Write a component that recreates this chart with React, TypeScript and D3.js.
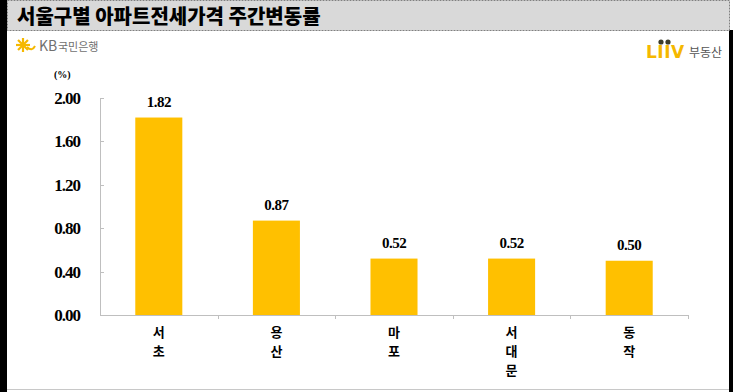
import React, { useRef, useEffect } from "react";
import * as d3 from "d3";

const districts = ["서초", "용산", "마포", "서대문", "동작"];
const changes = [1.82, 0.87, 0.52, 0.52, 0.5];
const yTicks = [0, 0.4, 0.8, 1.2, 1.6, 2.0];
const title = "서울구별 아파트전세가격 주간변동률";

const App = () => {
  const svgRef = useRef<SVGSVGElement>(null);

  useEffect(() => {
    const w = 733;
    const h = 392;
    const margin = { top: 98, bottom: 77, left: 100, right: 45 };
    const svg = d3.select(svgRef.current);
    svg.selectAll("*").remove();

    // frame
    svg.append("rect").attr("x", 0).attr("y", 0).attr("width", w).attr("height", h).attr("fill", "#fff");
    svg.append("rect").attr("x", 0).attr("y", 0).attr("width", 7).attr("height", h).attr("fill", "#000");
    svg.append("rect").attr("x", 729).attr("y", 30).attr("width", 4).attr("height", h - 30).attr("fill", "#000");
    svg.append("rect")
      .attr("x", 7.5).attr("y", 0.5).attr("width", 722).attr("height", 30)
      .attr("fill", "#d9d9d9").attr("stroke", "#808080").attr("stroke-dasharray", "2,1");
    svg.append("text")
      .attr("x", 17).attr("y", 24)
      .attr("font-family", "'Noto Sans CJK KR'").attr("font-weight", 900)
      .attr("font-size", 20).attr("fill", "#000")
      .text(title);
    svg.append("line").attr("x1", 7).attr("x2", 729).attr("y1", 389.5).attr("y2", 389.5)
      .attr("stroke", "#c8c8c8");

    // KB logo
    const kb = svg.append("g").attr("transform", "translate(23,45)");
    d3.range(8).forEach((i) => {
      const a = (i * Math.PI) / 4;
      kb.append("line")
        .attr("x1", 0).attr("y1", 0)
        .attr("x2", Math.cos(a) * 7).attr("y2", Math.sin(a) * 7)
        .attr("stroke", "#f5b800").attr("stroke-width", 2.2);
    });
    kb.append("path").attr("d", "M4,2 Q9,7 12,1").attr("fill", "none").attr("stroke", "#f5b800").attr("stroke-width", 2);
    svg.append("text").attr("x", 39).attr("y", 51)
      .attr("font-family", "'Noto Sans CJK KR'").attr("font-size", 14).attr("fill", "#707070")
      .text("KB");
    svg.append("text").attr("x", 58).attr("y", 51)
      .attr("font-family", "'Noto Sans CJK KR'").attr("font-size", 11).attr("fill", "#707070")
      .text("국민은행");

    // Liiv logo
    svg.append("text").attr("x", 646).attr("y", 58)
      .attr("font-family", "'DejaVu Sans'").attr("font-weight", 900).attr("font-size", 17)
      .attr("fill", "#f5b800").attr("letter-spacing", 0.5)
      .text("LIIV");
    svg.append("circle").attr("cx", 661).attr("cy", 42).attr("r", 2.6).attr("fill", "#3c3c2c");
    svg.append("circle").attr("cx", 668).attr("cy", 42).attr("r", 2.6).attr("fill", "#3c3c2c");
    svg.append("text").attr("x", 689).attr("y", 57)
      .attr("font-family", "'Noto Sans CJK KR'").attr("font-size", 12).attr("fill", "#555")
      .text("부동산");

    const x = d3.scaleBand().domain(districts).range([margin.left, w - margin.right]).paddingInner(0.6).paddingOuter(0.3);
    const y = d3.scaleLinear().domain([0, 2]).range([h - margin.bottom, margin.top]);

    // axes
    svg.append("line").attr("x1", margin.left + 0.5).attr("x2", margin.left + 0.5)
      .attr("y1", y(2)).attr("y2", y(0)).attr("stroke", "#bfbfbf");
    svg.append("line").attr("x1", margin.left).attr("x2", w - margin.right)
      .attr("y1", y(0) + 0.5).attr("y2", y(0) + 0.5).attr("stroke", "#bfbfbf");

    svg.append("g").selectAll("line").data(yTicks).join("line")
      .attr("x1", margin.left).attr("x2", margin.left + 4)
      .attr("y1", (d) => Math.round(y(d)) + 0.5).attr("y2", (d) => Math.round(y(d)) + 0.5)
      .attr("stroke", "#bfbfbf");
    svg.append("g").selectAll("text").data(yTicks).join("text")
      .attr("x", 80).attr("y", (d) => y(d) + 6)
      .attr("text-anchor", "end")
      .attr("font-family", "'Liberation Serif'").attr("font-weight", "bold").attr("font-size", 17)
      .attr("letter-spacing", -1)
      .text((d) => d.toFixed(2));
    svg.append("text").attr("x", 54).attr("y", 78)
      .attr("font-family", "'Liberation Serif'").attr("font-weight", "bold").attr("font-size", 10)
      .text("(%)");

    const step = x.step();
    const bounds = d3.range(districts.length + 1).map((i) => margin.left + i * step);
    svg.append("g").selectAll("line").data(bounds.slice(1)).join("line")
      .attr("x1", (d) => Math.round(d) + 0.5).attr("x2", (d) => Math.round(d) + 0.5)
      .attr("y1", y(0)).attr("y2", y(0) + 4).attr("stroke", "#bfbfbf");

    // bars
    svg.append("g").attr("fill", "#ffc000").selectAll("rect").data(changes).join("rect")
      .attr("x", (d, i) => x(districts[i])!)
      .attr("y", (d) => y(d))
      .attr("width", x.bandwidth())
      .attr("height", (d) => y(0) - y(d));

    svg.append("g").selectAll("text").data(changes).join("text")
      .attr("x", (d, i) => x(districts[i])! + x.bandwidth() / 2)
      .attr("y", (d) => y(d) - 11)
      .attr("text-anchor", "middle")
      .attr("font-family", "'Liberation Serif'").attr("font-weight", "bold").attr("font-size", 15)
      .attr("letter-spacing", -0.5)
      .text((d) => d.toFixed(2));

    // category labels, one character per line
    const chars = districts.flatMap((d) => Array.from(d).map((c, j) => ({ d, c, j })));
    svg.append("g").selectAll("text").data(chars).join("text")
      .attr("x", (e) => x(e.d)! + x.bandwidth() / 2)
      .attr("y", (e) => 337 + e.j * 19)
      .attr("text-anchor", "middle")
      .attr("font-family", "'Noto Sans CJK KR'").attr("font-weight", "bold").attr("font-size", 13)
      .attr("fill", "#000")
      .text((e) => e.c);
  }, []);

  return <svg ref={svgRef} width={733} height={392} style={{ position: "absolute", left: 0, top: 0 }} />;
};

export default App;
